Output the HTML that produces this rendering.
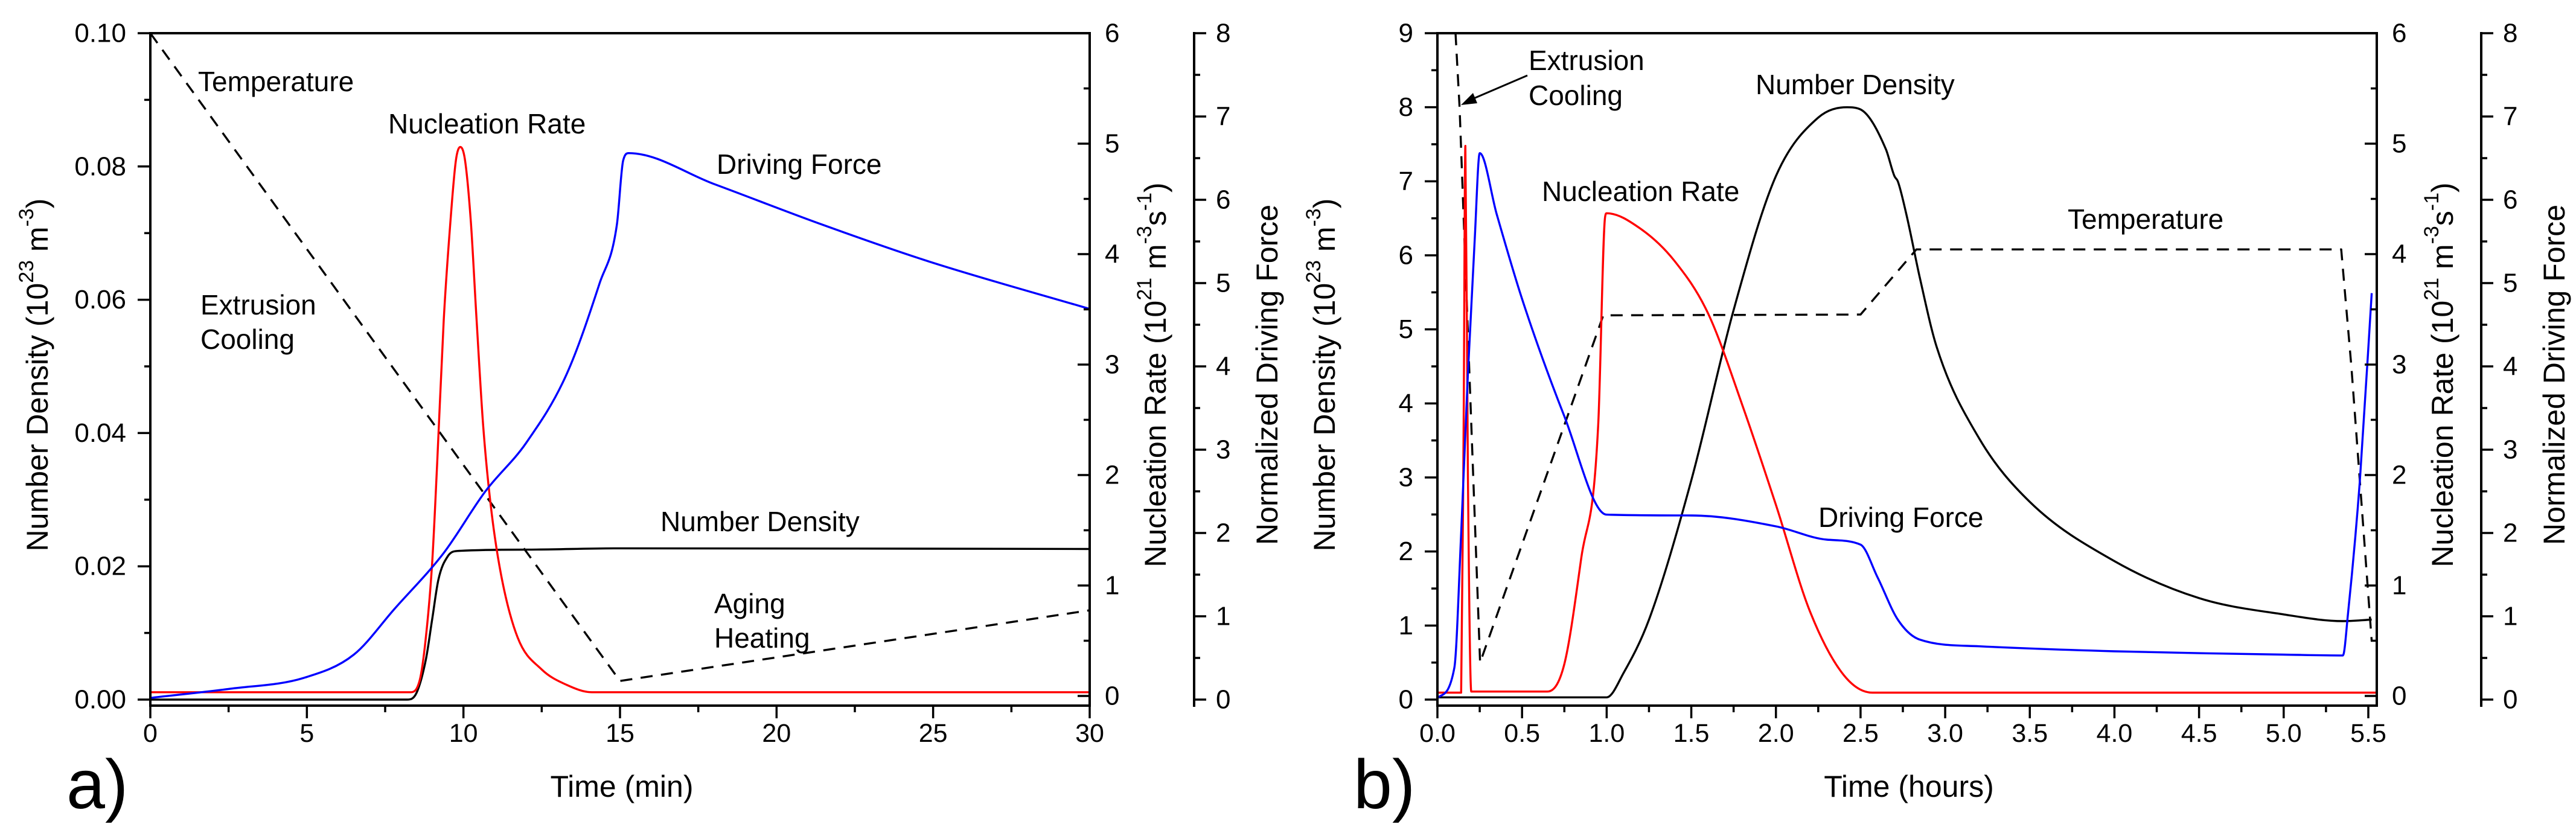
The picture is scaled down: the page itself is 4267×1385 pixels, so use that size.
<!DOCTYPE html>
<html><head><meta charset="utf-8"><style>
html,body{margin:0;padding:0;background:#fff;}
svg{display:block;font-family:"Liberation Sans",sans-serif;}
</style></head><body>
<svg id="fig" width="4267" height="1385" viewBox="0 0 4267 1385" xmlns="http://www.w3.org/2000/svg"></svg>
<script>
// ---------- Panel a data ----------
const aTempT=[0,15,30];
const aTempV=[0.1,0.0028,0.0134];
const aNdT=[0,8.2,8.5,8.8,9.0,9.2,9.5,9.8,12,15,30];
const aNdV=[0,0,0.001,0.006,0.012,0.018,0.0215,0.0223,0.0225,0.0227,0.0226];
const aNrT=[0,8.3,8.6,8.8,9.0,9.16,9.37,9.58,9.76,9.9,10.05,10.24,10.42,10.63,10.87,11.2,11.73,12.5,13.3,14.1,30];
const aNrV=[0.034,0.034,0.14,0.53,1.2,2.1,3.4,4.28,4.85,4.97,4.85,4.28,3.4,2.45,1.73,1.1,0.53,0.24,0.1,0.034,0.034];
const aDfT=[0,2.55,4.9,6.5,7.8,9.37,10.7,12.0,13.3,14.35,14.9,15.1,15.28,18.0,21.4,24.86,30];
const aDfV=[0.02,0.13,0.26,0.54,1.09,1.76,2.5,3.08,3.91,5.0,5.7,6.47,6.56,6.19,5.71,5.26,4.69];
const aXTicks=[0,5,10,15,20,25,30];
const aYTicks=["0.00","0.02","0.04","0.06","0.08","0.10"];
// ---------- Panel b data ----------
const bTempT=[0.107,0.131,0.252,0.98,2.5,2.83,5.34,5.40,5.52];
const bTempV=[9.0,8.0,0.5,5.19,5.2,6.08,6.08,4.5,0.79];
const bNdT=[0,1.0,1.1,1.25,1.5,1.75,2.0,2.25,2.42,2.5,2.65,2.7,2.72,2.77,2.85,2.95,3.2,3.5,4.0,4.5,5.0,5.35,5.52];
const bNdV=[0.03,0.03,0.36,1.08,2.96,5.26,7.07,7.86,8.0,7.97,7.43,7.07,7.0,6.56,5.7,4.76,3.53,2.67,1.87,1.37,1.15,1.06,1.08];
const bNrT=[0,0.14,0.155,0.165,0.18,0.2,0.65,0.75,0.85,0.95,0.99,1.0,1.2,1.4,1.6,1.8,2.0,2.2,2.4,2.57,5.55];
const bNrV=[0.03,0.03,2.5,4.98,2.0,0.04,0.04,0.29,1.25,2.45,4.33,4.37,4.23,3.94,3.46,2.64,1.73,0.77,0.19,0.03,0.03];
const bDfT=[0,0.1,0.14,0.18,0.22,0.25,0.35,0.5,0.75,1.0,1.5,2.0,2.3,2.5,2.6,2.72,2.85,3.2,4.0,5.0,5.35,5.38,5.45,5.52];
const bDfV=[0.02,0.38,1.99,3.91,5.51,6.56,5.83,4.81,3.4,2.22,2.21,2.08,1.92,1.86,1.47,0.96,0.72,0.64,0.58,0.54,0.53,1.03,2.63,4.88];
const bXTicks=["0.0","0.5","1.0","1.5","2.0","2.5","3.0","3.5","4.0","4.5","5.0","5.5"];
const bYTicks=[0,1,2,3,4,5,6,7,8,9];
const nrTicks=[0,1,2,3,4,5,6];
const dfTicks=[0,1,2,3,4,5,6,7,8];

const NS="http://www.w3.org/2000/svg";
const svg=document.getElementById('fig');
function mk(tag,attrs,parent){const e=document.createElementNS(NS,tag);for(const k in attrs)e.setAttribute(k,attrs[k]);(parent||svg).appendChild(e);return e;}
function txt(parent,x,y,s,anchor,size){
  const t=mk('text',{x:x,y:y,'font-size':size,'text-anchor':anchor,'dominant-baseline':'central',fill:'#000'},parent);
  t.textContent=s;return t;
}
// monotone cubic path
function monoPath(P){
  const n=P.length;if(n<3)return 'M'+P.map(p=>p[0].toFixed(1)+','+p[1].toFixed(1)).join(' L');
  const d=[],m=[];
  for(let i=0;i<n-1;i++){const dx=P[i+1][0]-P[i][0];d.push(dx===0?0:(P[i+1][1]-P[i][1])/dx);}
  m[0]=d[0];m[n-1]=d[n-2];
  for(let i=1;i<n-1;i++){m[i]=(d[i-1]*d[i]<=0)?0:(d[i-1]+d[i])/2;}
  for(let i=0;i<n-1;i++){if(d[i]===0){m[i]=0;m[i+1]=0;continue;}const a=m[i]/d[i],b=m[i+1]/d[i],s=a*a+b*b;if(s>9){const t=3/Math.sqrt(s);m[i]=t*a*d[i];m[i+1]=t*b*d[i];}}
  let s='M'+P[0][0].toFixed(1)+','+P[0][1].toFixed(1);
  for(let i=0;i<n-1;i++){const h=(P[i+1][0]-P[i][0])/3;
    s+=` C${(P[i][0]+h).toFixed(1)},${(P[i][1]+m[i]*h).toFixed(1)} ${(P[i+1][0]-h).toFixed(1)},${(P[i+1][1]-m[i+1]*h).toFixed(1)} ${P[i+1][0].toFixed(1)},${P[i+1][1].toFixed(1)}`;}
  return s;
}
const YT=55, FB=1169, ZL=1159, ZN=1153, ZD=1159;
function panel(ox,xmax,xTicks,xMinorStep,yTicks,ymax,tempT,tempV,ndT,ndV,nrT,nrV,dfT,dfV,name){
  const g=mk('g',{});
  
  
  const X0=ox+249,X1=ox+1805,XO=ox+1978;
  const sx=v=>X0+(v/xmax)*(X1-X0);
  const syL=v=>ZL-(v/ymax)*(ZL-YT);
  const syN=v=>ZN-(v/6)*(ZN-YT);
  const syD=v=>ZD-(v/8)*(ZD-YT);
  const clip=mk('clipPath',{id:'c'+name},g);
  mk('rect',{x:X0,y:YT,width:X1-X0,height:FB-YT},clip);
  const series=(T,V,sy,col,dash,nm,smooth)=>{
    const P=T.map((t,i)=>[sx(t),sy(V[i])]);
    const dstr=smooth?monoPath(P):'M'+P.map(p=>p[0].toFixed(1)+','+p[1].toFixed(1)).join(' L');
    const l=mk('path',{d:dstr,fill:'none',stroke:col,'stroke-width':3.4,'stroke-linejoin':'round','clip-path':`url(#c${name})`},g);
    if(dash)l.setAttribute('stroke-dasharray','20,14');
    
    
  };
  series(tempT,tempV,syL,'#000',true,'temperature-line',false);
  series(ndT,ndV,syL,'#000',false,'number-density-line',true);
  series(nrT,nrV,syN,'#ff0000',false,'nucleation-rate-line',true);
  series(dfT,dfV,syD,'#0000ff',false,'driving-force-line',true);
  const fr=mk('rect',{x:X0,y:YT,width:X1-X0,height:FB-YT,fill:'none',stroke:'#000','stroke-width':4},g);
  
  
  // x ticks
  xTicks.forEach((lab)=>{
    const v=Number(lab);const x=sx(v);
    mk('line',{x1:x,y1:FB,x2:x,y2:FB+21,stroke:'#000','stroke-width':3.5},g);
    const t=txt(g,x,1215,String(lab),'middle',43);
    
    
  });
  for(let v=xMinorStep;v<xmax;v+=2*xMinorStep){const x=sx(v);mk('line',{x1:x,y1:FB,x2:x,y2:FB+11,stroke:'#000','stroke-width':3.5},g);}
  // left y ticks
  yTicks.forEach((lab,i)=>{
    const v=Number(lab);const y=syL(v);
    mk('line',{x1:X0,y1:y,x2:X0-21,y2:y,stroke:'#000','stroke-width':3.5},g);
    if(i<yTicks.length-1){const step=Number(yTicks[1])-Number(yTicks[0]);const ym=syL(v+step/2);mk('line',{x1:X0,y1:ym,x2:X0-10,y2:ym,stroke:'#000','stroke-width':3.5},g);}
    const t=txt(g,X0-40,y,String(lab),'end',44);
    
    
  });
  // nucleation axis ticks (inward)
  nrTicks.forEach((v,i)=>{
    const y=syN(v);
    mk('line',{x1:X1,y1:y,x2:X1-20,y2:y,stroke:'#000','stroke-width':3.5},g);
    if(i<nrTicks.length-1){const ym=syN(v+0.5);mk('line',{x1:X1,y1:ym,x2:X1-10,y2:ym,stroke:'#000','stroke-width':3.5},g);}
    const t=txt(g,X1+25,y,String(v),'start',44);
    
    
  });
  const ax=mk('line',{x1:XO,y1:YT-2,x2:XO,y2:FB+2,stroke:'#000','stroke-width':4},g);
  
  
  dfTicks.forEach((v,i)=>{
    const y=syD(v);
    mk('line',{x1:XO,y1:y,x2:XO+20,y2:y,stroke:'#000','stroke-width':3.5},g);
    if(i<dfTicks.length-1){const ym=syD(v+0.5);mk('line',{x1:XO,y1:ym,x2:XO+10,y2:ym,stroke:'#000','stroke-width':3.5},g);}
    const t=txt(g,XO+36,y,String(v),'start',44);
    
    
  });
  return g;
}
const ga=panel(0,30,aXTicks,2.5,aYTicks,0.1,aTempT,aTempV,aNdT,aNdV,aNrT,aNrV,aDfT,aDfV,'panel-a');
const gb=panel(2132,5.55,bXTicks,0.25,bYTicks,9,bTempT,bTempV,bNdT,bNdV,bNrT,bNrV,bDfT,bDfV,'panel-b');

function titles(g,ox,xlab,plab){
  const f=(x,y,html,nm)=>{
    const t=mk('text',{x:0,y:0,'font-size':50,'text-anchor':'middle','dominant-baseline':'central',fill:'#000',transform:`translate(${x},${y}) rotate(-90)`},g);
    t.innerHTML=html;
    
    
  };
  f(ox+62,621,'Number Density (10<tspan dy="-18" font-size="34">23</tspan><tspan dy="18"> m</tspan><tspan dy="-18" font-size="34">-3</tspan><tspan dy="18">)</tspan>','y-axis-title');
  f(ox+1914,621,'Nucleation Rate (10<tspan dy="-18" font-size="34">21</tspan><tspan dy="18"> m</tspan><tspan dy="-18" font-size="34">-3</tspan><tspan dy="18">s</tspan><tspan dy="-18" font-size="34">-1</tspan><tspan dy="18">)</tspan>','nucleation-axis-title');
  f(ox+2099,621,'Normalized Driving Force','driving-force-axis-title');
  const xt=txt(g,ox+1030,1303,xlab,'middle',50);
  
  
  const pl=txt(g,ox+110,1300,plab,'start',115);
  
  
}
titles(ga,0,'Time (min)','a)');
titles(gb,2132,'Time (hours)','b)');

function ann(g,x,y,s){const t=txt(g,x,y,s,'start',46);
  
  }
ann(ga,328,135,'Temperature');
ann(ga,643,205,'Nucleation Rate');
ann(ga,1187,272,'Driving Force');
ann(ga,332,505,'Extrusion');
ann(ga,332,562,'Cooling');
ann(ga,1094,864,'Number Density');
ann(ga,1183,1000,'Aging');
ann(ga,1183,1057,'Heating');
ann(gb,2532,100,'Extrusion');
ann(gb,2532,158,'Cooling');
ann(gb,2908,140,'Number Density');
ann(gb,2554,317,'Nucleation Rate');
ann(gb,3425,363,'Temperature');
ann(gb,3012,857,'Driving Force');
const ar=mk('line',{x1:2530,y1:125,x2:2432,y2:167,stroke:'#000','stroke-width':3},gb);


const ah=mk('polygon',{points:'2420,174 2440,154 2447,171',fill:'#000'},gb);


</script>
</body></html>
